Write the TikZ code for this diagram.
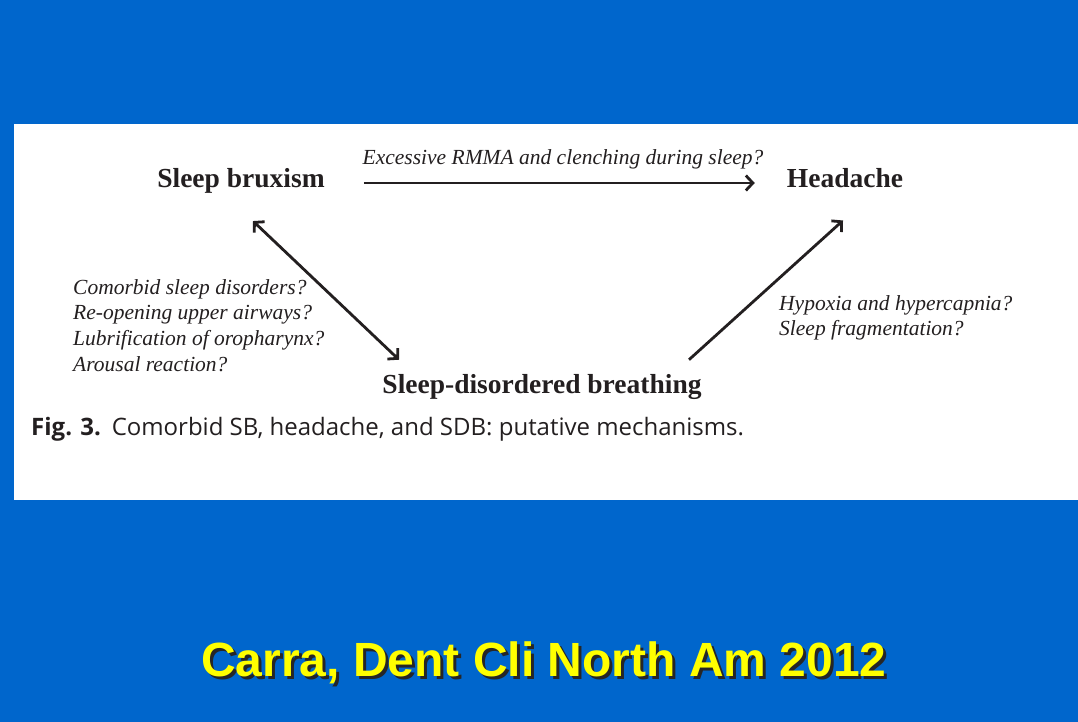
\documentclass[tikz,border=0pt]{standalone}
\usepackage{fontspec}
\setmainfont{Liberation Serif}
\newfontfamily\capfont{Open Sans}
\newfontfamily\footfont{Liberation Sans}
\usetikzlibrary{arrows.meta,positioning}
\definecolor{slideblue}{HTML}{0066CC}
\definecolor{ink}{HTML}{231F20}
\definecolor{footyellow}{HTML}{FFFF00}

\begin{document}
\begin{tikzpicture}[x=1pt, y=-1pt,
    box/.style={font=\fontsize{27.5}{30}\selectfont\bfseries, text=ink, inner sep=0pt},
    why/.style={font=\fontsize{21.5}{25.7}\selectfont\itshape, text=ink, inner sep=0pt, align=left},
    link/.style={draw=ink, line width=2.8pt, -{Straight Barb[length=7pt, width=15pt, line width=2.8pt]}}]
  \fill[slideblue] (0,0) rectangle (1078,722);
  \fill[white] (14,124) rectangle (1078,500);

  % the three conditions
  \node[box, anchor=base] (sb) at (241,187) {Sleep bruxism};
  \node[box, anchor=base] (ha) at (845,187) {Headache};
  \node[box, anchor=base] (sdb) at (542,393) {Sleep-disordered breathing};

  % mechanisms
  \node[why, anchor=base] (top) at (563,165) {Excessive RMMA and clenching during sleep?};
  \node[why, anchor=north west] (left) at (73,279) {Comorbid sleep disorders?\\
    Re-opening upper airways?\\ Lubrification of oropharynx?\\ Arousal reaction?};
  \node[why, anchor=north west] (right) at (779,295) {Hypoxia and hypercapnia?\\
    Sleep fragmentation?};

  \draw[link] ([xshift=39pt, yshift=4pt]sb.base east) -- ([xshift=-32pt, yshift=4pt]ha.base west);
  \draw[link, {Straight Barb[length=7pt, width=15pt, line width=2.8pt]}-{Straight Barb[length=7pt, width=15pt, line width=2.8pt]}]
    ([xshift=12pt, yshift=-28pt]sb.south) -- ([xshift=-143pt, yshift=14pt]sdb.north);
  \draw[link] ([xshift=147pt, yshift=14pt]sdb.north) -- ([xshift=-2pt, yshift=-33pt]ha.south);

  % caption
  \node[anchor=base west, inner sep=0pt, text=ink, font=\capfont\fontsize{24}{28}\selectfont] (cap) at (31,435)
    {\textbf{Fig. 3.}\hspace{0.45em}Comorbid SB, headache, and SDB: putative mechanisms.};

  % source line, with its shadow
  \node[anchor=base, inner sep=0pt, text=footyellow, font=\footfont\bfseries\fontsize{48}{56}\selectfont] (src) at (544,676)
    {\makebox[0pt][l]{\kern3pt\raisebox{-3pt}{\color{black!85}Carra, Dent Cli North Am 2012}}Carra, Dent Cli North Am 2012};
\end{tikzpicture}
\end{document}
